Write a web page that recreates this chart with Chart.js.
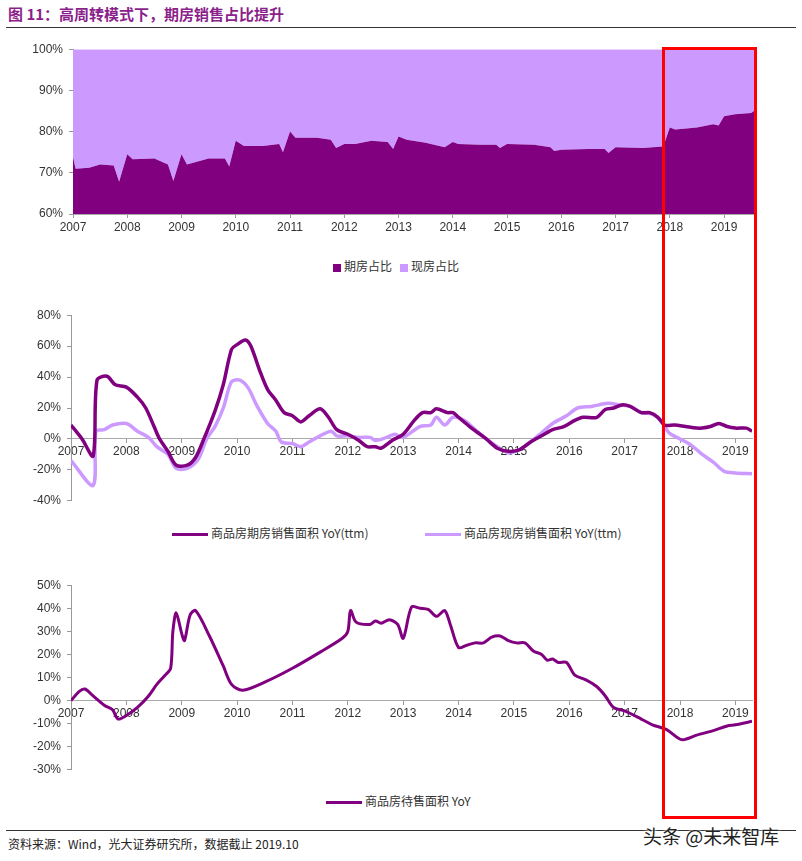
<!DOCTYPE html>
<html>
<head>
<meta charset="utf-8">
<script src="https://cdn.jsdelivr.net/npm/chart.js@4/dist/chart.umd.min.js"></script>
<style>
body { margin:0; background:#fff; font-family:"Liberation Sans","Noto Sans CJK SC",sans-serif; }
#wrap { position:relative; width:802px; height:861px; overflow:hidden; }
canvas { position:absolute; left:0; }
.title { position:absolute; left:8px; top:3px; font-size:15px; font-weight:bold; color:#8B1F8B; font-family:"Noto Sans CJK SC",sans-serif; }
.rule { position:absolute; left:6px; right:6px; height:1px; background:#333; }
.legend { position:absolute; font-size:12px; color:#333; font-family:"Noto Sans CJK SC",sans-serif; white-space:nowrap; }
.sq { display:inline-block; width:8px; height:8px; vertical-align:middle; margin-right:3px; }
.ln { display:inline-block; width:36px; height:3px; vertical-align:middle; margin-right:3px; }
.foot { position:absolute; left:8px; top:835px; font-size:12px; color:#222; font-family:"Noto Sans CJK SC",sans-serif; }
.mark { position:absolute; left:643px; top:822px; font-size:19px; color:#222; font-family:"Noto Sans CJK SC",sans-serif; text-shadow:0 0 3px #fff,0 0 3px #fff; }
#box { position:absolute; left:662px; top:47px; width:89px; height:766px; border:3px solid #ff0000; }
</style>
</head>
<body>
<div id="wrap">
<div class="title">图 11：高周转模式下，期房销售占比提升</div>
<div class="rule" style="top:27px"></div>
<canvas id="c1" width="802" height="200" style="top:36px"></canvas>
<div class="legend" style="left:333px;top:257px"><span class="sq" style="background:#800080"></span>期房占比&nbsp;&nbsp;&nbsp;<span class="sq" style="background:#CC99FF"></span>现房占比</div>
<canvas id="c2" width="802" height="212" style="top:302px"></canvas>
<div class="legend" style="left:172px;top:524px"><span class="ln" style="background:#800080"></span>商品房期房销售面积 YoY(ttm)</div>
<div class="legend" style="left:425px;top:524px"><span class="ln" style="background:#CC99FF"></span>商品房现房销售面积 YoY(ttm)</div>
<canvas id="c3" width="802" height="211" style="top:572px"></canvas>
<div class="legend" style="left:326px;top:792px"><span class="ln" style="background:#800080"></span>商品房待售面积 YoY</div>
<div class="rule" style="top:830px"></div>
<div class="foot">资料来源：Wind，光大证券研究所，数据截止 2019.10</div>
<div class="mark">头条 @未来智库</div>
<div id="box"></div>
</div>
<script>
// 图1：期房占比 (%)
const shareX = [2007.0,2007.05,2007.3,2007.5,2007.75,2007.85,2008.0,2008.1,2008.5,2008.75,2008.85,2009.0,2009.1,2009.5,2009.8,2009.88,2010.0,2010.15,2010.5,2010.8,2010.87,2011.0,2011.1,2011.5,2011.75,2011.85,2012.0,2012.2,2012.5,2012.8,2012.9,2013.0,2013.15,2013.5,2013.85,2014.0,2014.1,2014.5,2014.8,2014.87,2015.0,2015.5,2015.8,2015.87,2016.0,2016.5,2016.8,2016.87,2017.0,2017.5,2017.88,2018.0,2018.1,2018.5,2018.8,2018.9,2019.0,2019.2,2019.5,2019.57];
const shareQi = [73.6,71.0,71.2,72.0,71.8,67.8,74.5,73.3,73.5,72.0,68.0,74.5,72.0,73.5,73.5,71.5,77.8,76.5,76.5,77.0,75.0,80.0,78.5,78.5,78.0,76.0,77.0,77.0,77.8,77.5,75.8,78.8,78.0,77.3,76.2,77.5,77.0,76.8,76.8,76.0,77.0,76.8,76.2,75.3,75.6,75.8,75.8,74.8,76.2,76.0,76.4,81.0,80.5,81.0,81.8,81.5,83.7,84.2,84.5,85.2];
const shareXian = shareQi.map(v => 100 - v);

// 图2：销售面积 YoY(ttm) (%)
const qiX = [2007.0,2007.2,2007.4,2007.47,2007.65,2007.8,2008.0,2008.2,2008.35,2008.5,2008.6,2008.75,2008.9,2009.1,2009.25,2009.4,2009.6,2009.75,2009.9,2010.0,2010.15,2010.25,2010.4,2010.55,2010.7,2010.85,2011.0,2011.15,2011.3,2011.5,2011.65,2011.8,2012.0,2012.2,2012.35,2012.5,2012.6,2012.8,2013.0,2013.2,2013.35,2013.5,2013.6,2013.8,2013.9,2014.0,2014.2,2014.35,2014.5,2014.7,2014.9,2015.1,2015.3,2015.5,2015.7,2015.9,2016.1,2016.25,2016.5,2016.65,2016.8,2016.95,2017.1,2017.3,2017.45,2017.6,2017.72,2017.9,2018.1,2018.3,2018.4,2018.55,2018.7,2018.85,2019.0,2019.2,2019.3];
const qiYoY = [9,0,-11,38,40.5,35,33.5,27,20,8,0,-8,-17,-17,-12,0,18,35,58,61,64,60,45,32,25,17,15,11,15,19.5,14,6,3,-1,-5,-5,-6,-1,3,12,17,17,19.5,17,17,14,8,4,0,-6,-8,-7,-2,2,6,8,12,14,14,19,20,22,21,17,17,14,9,9,8,7,7,8,10,8,7,7,5];
const xianX = [2007.0,2007.4,2007.45,2007.6,2007.75,2008.0,2008.2,2008.4,2008.55,2008.75,2008.9,2009.1,2009.3,2009.45,2009.6,2009.75,2009.9,2010.05,2010.2,2010.35,2010.55,2010.7,2010.8,2011.0,2011.15,2011.3,2011.5,2011.7,2011.8,2012.0,2012.2,2012.4,2012.5,2012.7,2012.85,2013.0,2013.3,2013.5,2013.6,2013.75,2013.9,2014.1,2014.3,2014.5,2014.7,2014.9,2015.1,2015.3,2015.5,2015.7,2015.95,2016.15,2016.4,2016.7,2016.9,2017.1,2017.3,2017.5,2017.65,2017.8,2018.0,2018.2,2018.4,2018.6,2018.8,2019.0,2019.3];
const xianYoY = [-14,-30,5,6,9,10,5,1,-5,-10,-19,-19,-13,0,8,20,37,38,33,22,10,5,-2,-3,-5,-2,2,5,2,2,1,1,-1,1,3,1,8,9,14,9,14,12,6,0,-5,-9,-7,-2,4,10,15,20,21,23,22,21,17,16,12,4,0,-4,-10,-15,-21,-22,-22.5];

// 图3：待售面积 YoY (%)
const daiX = [2007.0,2007.15,2007.25,2007.4,2007.6,2007.75,2007.85,2008.0,2008.2,2008.4,2008.55,2008.7,2008.8,2008.84,2008.9,2009.0,2009.05,2009.15,2009.25,2009.5,2009.75,2009.9,2010.1,2010.5,2011.0,2011.5,2011.9,2012.0,2012.05,2012.15,2012.4,2012.5,2012.6,2012.75,2012.9,2013.0,2013.15,2013.3,2013.45,2013.6,2013.75,2013.85,2014.0,2014.15,2014.3,2014.45,2014.6,2014.75,2014.9,2015.05,2015.2,2015.35,2015.5,2015.6,2015.7,2015.8,2015.95,2016.1,2016.3,2016.5,2016.65,2016.8,2017.0,2017.3,2017.5,2017.75,2017.95,2018.05,2018.3,2018.6,2018.85,2019.0,2019.3];
const daiYoY = [0,4,5,2,-2,-4,-8,-6.5,-3,2,7,11,14,30,38,29,26,37,39,28,15,7,4.5,8,14,21,27,30,39,34,33,34.5,33.5,35,33,27,40.5,40,39.5,36.5,39,33,23,24,25,25,27.5,28,26,25,25,21.5,20,17.5,18,16.5,16.5,11,9,6,2,-3,-4.5,-8,-10.5,-12.5,-16,-17,-15,-13,-11,-10.5,-9];

const yearTicks = [2007,2008,2009,2010,2011,2012,2013,2014,2015,2016,2017,2018,2019];
const FONT = { family: 'Liberation Sans', size: 12 };
const pts = (xs, ys) => xs.map((x, i) => ({ x: x, y: ys[i] }));

function xAxis(max, atZero) {
    return {
        type: 'linear', min: 2007, max: max,
        position: atZero ? { y: 0 } : 'bottom',
        afterBuildTicks: s => { s.ticks = yearTicks.map(v => ({ value: v })); },
        ticks: { font: FONT, color: '#333', callback: v => String(v), maxRotation: 0, autoSkip: false, padding: 2 },
        grid: { drawOnChartArea: false, color: '#999', tickLength: 4 },
        border: { color: '#aaa' },
        afterFit: s => { s.height = 22; }
    };
}
function yAxis(min, max, step, w, stacked) {
    return {
        min: min, max: max, stacked: stacked,
        ticks: { stepSize: step, font: FONT, color: '#333', callback: v => v + '%', padding: 6 },
        grid: { drawOnChartArea: false, color: '#999', tickLength: 4 },
        border: { color: '#999' },
        afterFit: s => { s.width = w; }
    };
}
const base = {
    responsive: false, animation: false,
    plugins: { legend: { display: false }, tooltip: { enabled: false } },
    elements: { point: { radius: 0 } }
};

new Chart(document.getElementById('c1'), {
    type: 'line',
    data: { datasets: [
        { label: '期房占比', data: pts(shareX, shareQi), borderWidth: 0, backgroundColor: '#800080', fill: 'origin', tension: 0 },
        { label: '现房占比', data: pts(shareX, shareXian), borderWidth: 0, backgroundColor: '#CC99FF', fill: '-1', tension: 0 }
    ] },
    options: Object.assign({}, base, {
        layout: { padding: { top: 10, right: 47, left: 0, bottom: 0 } },
        scales: { x: Object.assign(xAxis(2019.57, false), { stacked: true }), y: yAxis(60, 100, 10, 73, true) }
    })
});

new Chart(document.getElementById('c2'), {
    type: 'line',
    data: { datasets: [
        { label: '商品房期房销售面积 YoY(ttm)', data: pts(qiX, qiYoY), borderColor: '#800080', borderWidth: 3.5, tension: 0.3, fill: false },
        { label: '商品房现房销售面积 YoY(ttm)', data: pts(xianX, xianYoY), borderColor: '#CC99FF', borderWidth: 3.5, tension: 0.3, fill: false }
    ] },
    options: Object.assign({}, base, {
        layout: { padding: { top: 10, right: 50, left: 0, bottom: 8 } },
        scales: { x: xAxis(2019.3, true), y: yAxis(-40, 80, 20, 71, false) }
    })
});

new Chart(document.getElementById('c3'), {
    type: 'line',
    data: { datasets: [
        { label: '商品房待售面积 YoY', data: pts(daiX, daiYoY), borderColor: '#800080', borderWidth: 3, tension: 0.3, fill: false }
    ] },
    options: Object.assign({}, base, {
        layout: { padding: { top: 10, right: 50, left: 0, bottom: 8 } },
        scales: { x: xAxis(2019.3, true), y: yAxis(-30, 50, 10, 71, false) }
    })
});
</script>
</body>
</html>
